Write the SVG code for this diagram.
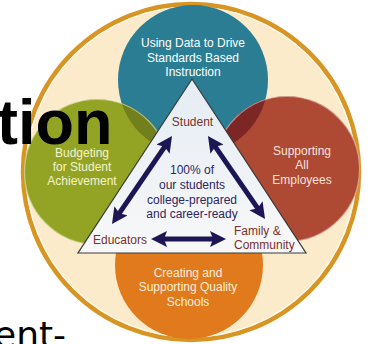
<svg xmlns="http://www.w3.org/2000/svg" width="372" height="344" viewBox="0 0 372 344">
  <style>
    .lbl { font-family: "Liberation Sans", Arial, sans-serif; font-size: 12px; text-anchor: middle; }
    .wt { fill: #ffffff; }
    .gt { fill: #f3f3cf; }
    .rt { fill: #f7e3dc; }
    .ot { fill: #fdeedd; }
    .tri { fill: #7b2f2c; }
    .mid { fill: #2d2660; }
    .arrow { stroke: #1c1654; stroke-width: 5; fill: none; marker-start: url(#head); marker-end: url(#head); }
    .edge { fill: none; stroke: #ffffff; stroke-opacity: 0.45; stroke-width: 1.2; }
  </style>
  <defs>
    <marker id="head" viewBox="0 0 16 16" markerWidth="16" markerHeight="16" markerUnits="userSpaceOnUse" refX="8" refY="8" orient="auto-start-reverse">
      <path d="M0,0 L16,8 L0,16 L3,8 z" fill="#1c1654"/>
    </marker>
    <linearGradient id="triFill" x1="0" y1="0" x2="0" y2="1">
      <stop offset="0" stop-color="#e4ecf4"/>
      <stop offset="1" stop-color="#f8f8f8"/>
    </linearGradient>
    <clipPath id="clipGreen"><circle cx="97" cy="172" r="73"/></clipPath>
    <clipPath id="clipRed"><circle cx="287" cy="169" r="73"/></clipPath>
  </defs>
  <rect width="372" height="344" fill="#ffffff"/>
  <g id="ring">
    <circle cx="191" cy="172" r="168" fill="#fcebcb" stroke="#d99523" stroke-width="4.5"/>
    <circle cx="191" cy="172" r="165" fill="none" stroke="#fff7e8" stroke-width="1.5"/>
  </g>
  <g id="node-data">
    <circle cx="193" cy="80" r="75" fill="#2b7d93"/>
  </g>
  <g id="node-budget">
    <circle cx="97" cy="172" r="73" fill="#93a425"/>
    <circle cx="193" cy="80" r="75" fill="#717f1c" clip-path="url(#clipGreen)"/>
    <circle class="edge" cx="97" cy="172" r="72.5"/>
  </g>
  <g id="node-employees">
    <circle cx="287" cy="169" r="73" fill="#ae4934"/>
    <circle cx="193" cy="80" r="75" fill="#7c2626" clip-path="url(#clipRed)"/>
    <circle class="edge" cx="287" cy="169" r="72.5"/>
  </g>
  <g id="node-schools">
    <circle cx="189" cy="265" r="74" fill="#e07a1c"/>
  </g>
  <g id="node-triangle">
    <polygon points="192,79 78,253 306,253" fill="url(#triFill)" stroke="#3a3a3a" stroke-width="1.2"/>
  </g>
  <g id="connectors">
    <line class="arrow" x1="167.5" y1="142.6" x2="116.5" y2="217.4"/>
    <line class="arrow" x1="212.5" y1="142.6" x2="260.5" y2="212.4"/>
    <line class="arrow" x1="159" y1="239" x2="218" y2="239"/>
  </g>
  <g id="labels">
    <text class="lbl wt" x="193" y="47">Using Data to Drive</text>
    <text class="lbl wt" x="193" y="61.5">Standards Based</text>
    <text class="lbl wt" x="193" y="76">Instruction</text>
    <text class="lbl gt" x="82" y="157">Budgeting</text>
    <text class="lbl gt" x="82" y="171">for Student</text>
    <text class="lbl gt" x="82" y="185">Achievement</text>
    <text class="lbl rt" x="302" y="155">Supporting</text>
    <text class="lbl rt" x="302" y="169">All</text>
    <text class="lbl rt" x="302" y="183.5">Employees</text>
    <text class="lbl ot" x="188" y="276.5">Creating and</text>
    <text class="lbl ot" x="188" y="291">Supporting Quality</text>
    <text class="lbl ot" x="188" y="305.5">Schools</text>
    <text class="lbl tri" x="192.5" y="126">Student</text>
    <text class="lbl tri" x="120" y="244">Educators</text>
    <text class="lbl tri" x="234" y="235" style="text-anchor:start">Family &amp;</text>
    <text class="lbl tri" x="234" y="249" style="text-anchor:start">Community</text>
    <text class="lbl mid" x="192" y="174">100% of</text>
    <text class="lbl mid" x="192" y="189">our students</text>
    <text class="lbl mid" x="192" y="203.5">college-prepared</text>
    <text class="lbl mid" x="192" y="218">and career-ready</text>
  </g>
  <g id="overlay-text">
    <text x="-3" y="144" font-family="'Liberation Sans', Arial, sans-serif" font-weight="bold" font-size="63" fill="#000000">tion</text>
    <text x="-6" y="347" font-family="'DejaVu Sans', Verdana, sans-serif" font-size="36" fill="#000000">ent-</text>
  </g>
</svg>
